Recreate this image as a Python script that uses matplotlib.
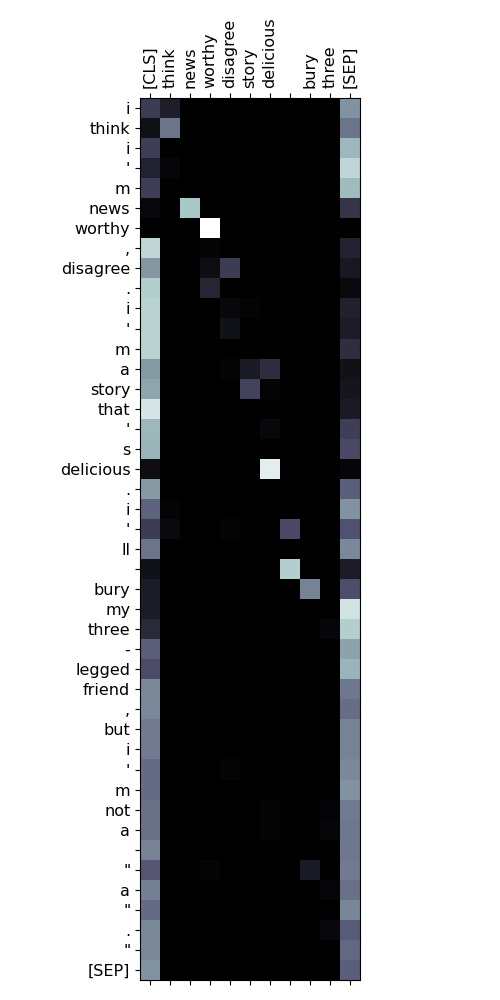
import numpy as np
import matplotlib
matplotlib.use("Agg")
import matplotlib.pyplot as plt

col_labels = ["[CLS]", "think", "news", "worthy", "disagree", "story", "delicious", "", "bury", "three", "[SEP]"]
row_labels = ["i", "think", "i", "'", "m", "news", "worthy", ",", "disagree", ".", "i", "'", "m", "a",
              "story", "that", "'", "s", "delicious", ".", "i", "'", "ll", "", "bury", "my", "three", "-",
              "legged", "friend", ",", "but", "i", "'", "m", "not", "a", "", "\"", "a", "\"", ".", "\"", "[SEP]"]

cls_col = [0.27, 0.08, 0.28, 0.16, 0.28, 0.04, 0.0, 0.82, 0.59, 0.78, 0.80, 0.80, 0.80, 0.60, 0.64, 0.88,
           0.70, 0.69, 0.06, 0.60, 0.42, 0.27, 0.48, 0.08, 0.13, 0.13, 0.19, 0.41, 0.34, 0.55, 0.55, 0.50,
           0.50, 0.45, 0.45, 0.47, 0.47, 0.53, 0.38, 0.52, 0.45, 0.55, 0.55, 0.58]
sep_col = [0.58, 0.48, 0.70, 0.82, 0.71, 0.24, 0.01, 0.16, 0.11, 0.05, 0.15, 0.13, 0.21, 0.08, 0.10, 0.12,
           0.28, 0.33, 0.03, 0.41, 0.58, 0.36, 0.55, 0.13, 0.35, 0.87, 0.78, 0.63, 0.69, 0.49, 0.46, 0.53,
           0.53, 0.55, 0.58, 0.50, 0.49, 0.49, 0.50, 0.47, 0.54, 0.40, 0.44, 0.41]
# (row, col, value) for the remaining non-zero cells
other_cells = [(0, 1, 0.14), (1, 1, 0.48), (3, 1, 0.03), (5, 2, 0.75), (6, 3, 1.0), (7, 3, 0.02),
               (8, 3, 0.06), (8, 4, 0.27), (9, 3, 0.17), (10, 4, 0.04), (10, 5, 0.02), (11, 4, 0.08),
               (13, 2, 0.01), (13, 4, 0.02), (13, 5, 0.12), (13, 6, 0.21), (14, 5, 0.30), (14, 6, 0.02),
               (15, 6, 0.01), (16, 6, 0.04), (16, 7, 0.01), (18, 6, 0.92), (20, 1, 0.02), (21, 1, 0.05),
               (21, 4, 0.02), (21, 7, 0.33), (23, 1, 0.01), (23, 7, 0.78), (24, 1, 0.01), (24, 8, 0.53),
               (26, 9, 0.03), (33, 4, 0.02), (33, 7, 0.01), (35, 1, 0.005), (35, 6, 0.02), (35, 9, 0.02),
               (36, 6, 0.02), (36, 9, 0.03), (38, 3, 0.02), (38, 8, 0.12), (39, 9, 0.03), (40, 8, 0.01),
               (41, 5, 0.01), (41, 9, 0.04)]

data = np.zeros((len(row_labels), len(col_labels)))
data[:, 0] = cls_col
data[:, -1] = sep_col
for r, c, v in other_cells:
    data[r, c] = v

fig = plt.figure(figsize=(5, 10), dpi=100)
ax = fig.add_axes([0.28, 0.02, 0.44, 0.882])
ax.matshow(data, cmap="bone", vmin=0, vmax=1, aspect="auto")
ax.set_xticks(range(len(col_labels)))
ax.set_xticklabels(col_labels, rotation=90, fontsize=11.5)
ax.set_yticks(range(len(row_labels)))
ax.set_yticklabels(row_labels, fontsize=11.5)
ax.tick_params(axis="x", top=True, bottom=True, labeltop=True, labelbottom=False)
fig.savefig("out.png", dpi=100)
